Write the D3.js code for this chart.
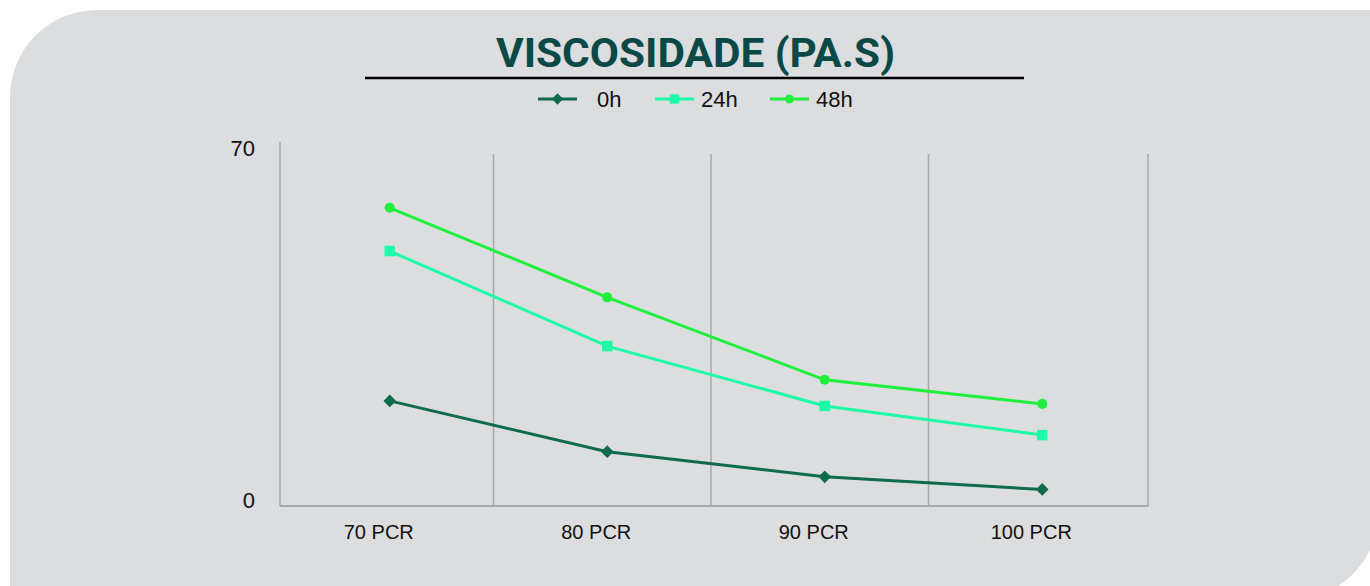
<!DOCTYPE html>
<html lang="pt">
<head>
<meta charset="UTF-8"/>
<title>Viscosidade (Pa.s)</title>
<script src="https://d3js.org/d3.v7.min.js"></script>
<style>
  body { margin: 0; background: #ffffff; }
  svg { display: block; }
</style>
</head>
<body>
<script>
// data
var categories = ["70 PCR", "80 PCR", "90 PCR", "100 PCR"];
var series0h  = [20.9, 10.8, 5.8, 3.3];
var series24h = [50.7, 31.8, 19.9, 14.1];
var series48h = [59.3, 41.5, 25.1, 20.3];
var seriesNames = ["0h", "24h", "48h"];
var yTicks = [0, 70];

var w = 1370;
var h = 586;

var colors = { "0h": "#0f6b4b", "24h": "#1dfba6", "48h": "#1ff03c" };
// diamond is drawn as a rotated square
var shapes = { "0h": d3.symbolSquare, "24h": d3.symbolSquare, "48h": d3.symbolCircle };
var sizes  = { "0h": 80, "24h": 110, "48h": 80 };
var rot    = { "0h": 45, "24h": 0, "48h": 0 };

var svg = d3.select("body")
    .append("svg")
    .attr("width", w)
    .attr("height", h);

// grey card: only top-left and bottom-right corners are rounded
var cx0 = 10, cy0 = 10, cx1 = 1378, cy1 = 600, r = 87;
var card = d3.path();
card.moveTo(cx0, cy0 + r);
card.arcTo(cx0, cy0, cx0 + r, cy0, r);
card.lineTo(cx1, cy0);
card.lineTo(cx1, cy1 - r);
card.arcTo(cx1, cy1, cx1 - r, cy1, r);
card.lineTo(cx0, cy1);
card.closePath();
svg.append("path")
    .attr("d", card.toString())
    .attr("fill", "#dcdddf");

// title
svg.append("text")
    .attr("x", 695.5)
    .attr("y", 67)
    .attr("text-anchor", "middle")
    .attr("font-family", "Roboto, sans-serif")
    .attr("font-weight", "bold")
    .attr("font-size", "41px")
    .attr("textLength", 399)
    .attr("lengthAdjust", "spacingAndGlyphs")
    .attr("fill", "#0b4946")
    .text("VISCOSIDADE (PA.S)");

svg.append("line")
    .attr("x1", 365).attr("x2", 1024)
    .attr("y1", 78).attr("y2", 78)
    .attr("stroke", "#000")
    .attr("stroke-width", 2.5);

// legend
var legendX = { "0h": 538, "24h": 655, "48h": 770 };
var legendTextX = { "0h": 597, "24h": 701, "48h": 816 };
var legend = svg.selectAll(".legend")
    .data(seriesNames)
    .enter()
    .append("g")
    .attr("class", "legend");

legend.append("line")
    .attr("x1", function (d) { return legendX[d]; })
    .attr("x2", function (d) { return legendX[d] + 39; })
    .attr("y1", 99).attr("y2", 99)
    .attr("stroke", function (d) { return colors[d]; })
    .attr("stroke-width", 3);

legend.append("path")
    .attr("d", function (d) { return d3.symbol().type(shapes[d]).size(sizes[d] * 0.8)(); })
    .attr("transform", function (d) { return "translate(" + (legendX[d] + 19.5) + ",99) rotate(" + rot[d] + ")"; })
    .attr("fill", function (d) { return colors[d]; });

legend.append("text")
    .attr("x", function (d) { return legendTextX[d]; })
    .attr("y", 107)
    .attr("font-family", "Liberation Sans, Arial, sans-serif")
    .attr("font-size", "22px")
    .attr("fill", "#111")
    .text(function (d) { return d; });

// scales
var x = d3.scaleBand()
    .domain(categories)
    .range([278, 1148]);

var y = d3.scaleLinear()
    .domain([0, 70])
    .range([506, 154]);

// vertical grid lines between categories (last one is the right edge)
var gridX = categories.map(function (c, i) {
    return x(c) + x.bandwidth() - (i < categories.length - 1 ? 2 : 0);
});
svg.selectAll(".grid")
    .data(gridX)
    .enter()
    .append("line")
    .attr("x1", function (d) { return d; })
    .attr("x2", function (d) { return d; })
    .attr("y1", 154)
    .attr("y2", 506)
    .attr("stroke", "#a8a9ab")
    .attr("stroke-width", 1.5);

// left axis line + baseline
svg.append("line")
    .attr("x1", 280).attr("x2", 280)
    .attr("y1", 142).attr("y2", 506)
    .attr("stroke", "#a8a9ab")
    .attr("stroke-width", 1.5);

svg.append("line")
    .attr("x1", 280).attr("x2", 1148.75)
    .attr("y1", 506).attr("y2", 506)
    .attr("stroke", "#a8a9ab")
    .attr("stroke-width", 2);

// y tick labels
svg.selectAll(".ylab")
    .data(yTicks)
    .enter()
    .append("text")
    .attr("x", 255)
    .attr("y", function (d) { return y(d) + 2; })
    .attr("text-anchor", "end")
    .attr("font-family", "Liberation Sans, Arial, sans-serif")
    .attr("font-size", "22px")
    .attr("fill", "#111")
    .text(function (d) { return d; });

// x labels
svg.selectAll(".xlab")
    .data(categories)
    .enter()
    .append("text")
    .attr("x", function (d) { return x(d) + x.bandwidth() / 2 - 8; })
    .attr("y", 539)
    .attr("text-anchor", "middle")
    .attr("font-family", "Liberation Sans, Arial, sans-serif")
    .attr("font-size", "20px")
    .attr("fill", "#111")
    .text(function (d) { return d; });

// lines
var allSeries = [
    { name: "0h", values: series0h },
    { name: "24h", values: series24h },
    { name: "48h", values: series48h }
];

var px = function (i) { return x(categories[i]) + x.bandwidth() / 2 + 3; };

var line = d3.line()
    .x(function (d, i) { return px(i); })
    .y(function (d) { return y(d); });

allSeries.forEach(function (s) {
    svg.append("path")
        .datum(s.values)
        .attr("d", line)
        .attr("fill", "none")
        .attr("stroke", colors[s.name])
        .attr("stroke-width", 3);

    svg.selectAll(".pt-" + s.name)
        .data(s.values)
        .enter()
        .append("path")
        .attr("d", d3.symbol().type(shapes[s.name]).size(sizes[s.name]))
        .attr("transform", function (d, i) { return "translate(" + px(i) + "," + y(d) + ") rotate(" + rot[s.name] + ")"; })
        .attr("fill", colors[s.name]);
});
</script>
</body>
</html>
